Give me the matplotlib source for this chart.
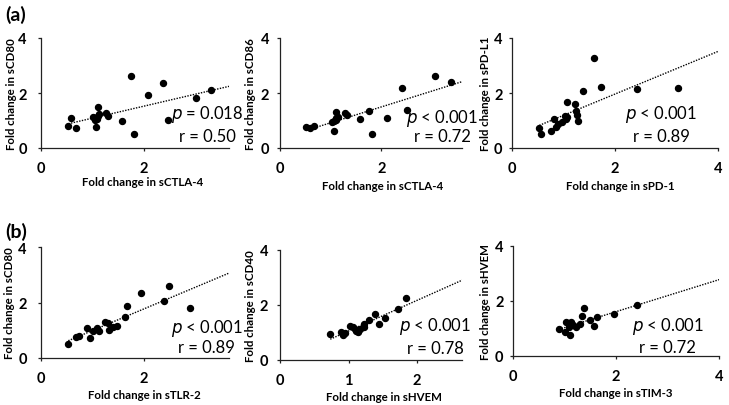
import numpy as np
import matplotlib
matplotlib.use("Agg")
import matplotlib.pyplot as plt

plt.rcParams['font.family'] = ['Lato', 'DejaVu Sans']

# ---------------- data ----------------
# Panel (a) 1: sCTLA-4 vs sCD80
a1_x = [0.53, 0.59, 0.68, 1.00, 1.05, 1.08, 1.10, 1.06, 1.13, 1.11, 1.27, 1.30, 1.57, 1.74, 1.81, 2.08, 2.37, 2.47, 3.01, 3.31]
a1_y = [0.79, 1.09, 0.72, 1.11, 1.02, 1.07, 1.48, 0.76, 1.23, 1.15, 1.29, 1.17, 0.99, 2.62, 0.50, 1.91, 2.37, 1.01, 1.82, 2.10]
# Panel (a) 2: sCTLA-4 vs sCD86
a2_x = [0.52, 0.59, 0.67, 1.02, 1.06, 1.10, 1.11, 1.15, 1.07, 1.10, 1.29, 1.32, 1.58, 1.76, 1.82, 2.10, 2.41, 2.51, 3.06, 3.36]
a2_y = [0.78, 0.72, 0.79, 0.96, 0.99, 1.32, 1.08, 1.12, 0.63, 1.03, 1.26, 1.21, 1.04, 1.36, 0.50, 1.10, 2.18, 1.38, 2.62, 2.39]
# Panel (a) 3: sPD-1 vs sPD-L1
a3_x = [0.53, 0.57, 0.75, 0.82, 0.85, 0.90, 0.96, 1.03, 1.05, 1.06, 1.07, 1.22, 1.24, 1.26, 1.27, 1.37, 1.59, 1.72, 2.43, 3.21]
a3_y = [0.74, 0.51, 0.63, 1.05, 0.78, 0.87, 0.93, 1.15, 1.05, 1.68, 1.12, 1.59, 1.36, 1.20, 0.99, 2.06, 3.27, 2.23, 2.16, 2.19]
# Panel (b) 1: sTLR-2 vs sCD80
b1_x = [0.53, 0.68, 0.73, 0.90, 0.96, 1.02, 1.08, 1.13, 1.24, 1.31, 1.33, 1.39, 1.47, 1.64, 1.67, 1.95, 2.39, 2.49, 2.89]
b1_y = [0.50, 0.76, 0.80, 1.08, 0.71, 0.98, 1.06, 0.95, 1.28, 1.26, 1.02, 1.10, 1.16, 1.49, 1.89, 2.33, 2.05, 2.59, 1.80]
# Panel (b) 2: sHVEM vs sCD40
b2_x = [0.73, 0.89, 0.91, 0.95, 1.02, 1.06, 1.09, 1.11, 1.13, 1.16, 1.22, 1.23, 1.29, 1.39, 1.44, 1.53, 1.72, 1.84]
b2_y = [0.93, 0.99, 0.90, 0.96, 1.24, 1.20, 1.12, 1.03, 0.99, 1.12, 1.30, 1.18, 1.45, 1.66, 1.30, 1.53, 1.83, 2.23]
# Panel (b) 3: sTIM-3 vs sHVEM
b3_x = [0.89, 1.01, 1.03, 1.08, 1.11, 1.13, 1.16, 1.22, 1.29, 1.34, 1.38, 1.50, 1.58, 1.62, 1.95, 2.41]
b3_y = [0.96, 0.88, 1.21, 1.03, 0.74, 1.21, 1.12, 1.03, 1.14, 1.45, 1.72, 1.30, 1.09, 1.39, 1.53, 1.84]

x_labels = ["Fold change in sCTLA-4", "Fold change in sCTLA-4", "Fold change in sPD-1",
            "Fold change in sTLR-2", "Fold change in sHVEM", "Fold change in sTIM-3"]
y_labels = ["Fold change in sCD80", "Fold change in sCD86", "Fold change in sPD-L1",
            "Fold change in sCD80", "Fold change in sCD40", "Fold change in sHVEM"]
p_texts = ["= 0.018", "< 0.001", "< 0.001", "< 0.001", "< 0.001", "< 0.001"]
r_texts = ["r = 0.50", "r = 0.72", "r = 0.89", "r = 0.89", "r = 0.78", "r = 0.72"]
x_ticks = [[0, 2], [0, 2], [0, 2, 4], [0, 2], [0, 1, 2], [0, 2, 4]]
y_ticks = [0, 2, 4]
panel_tags = ["(a)", "(b)"]

xs = [a1_x, a2_x, a3_x, b1_x, b2_x, b3_x]
ys = [a1_y, a2_y, a3_y, b1_y, b2_y, b3_y]

# ---------------- layout ----------------
W, H = 729, 406
fig = plt.figure(figsize=(W / 100, H / 100), dpi=100)

# pixel boxes: left, right, top, bottom
boxes = [(41, 229, 39, 149), (279.7, 462.3, 39, 149), (512, 718.3, 39, 149),
         (41, 229.3, 248.3, 358.7), (280.3, 462.3, 250.7, 360.7), (513, 719.3, 246.7, 356.7)]
xmaxs = [3.65, 3.59, 4.0, 3.66, 2.66, 4.0]
text_x = [0.883, 0.89, 0.724, 0.88, 0.853, 0.75]
p_y = [0.31, 0.28, 0.31, 0.275, 0.31, 0.27]
r_y = [0.11, 0.11, 0.11, 0.094, 0.11, 0.075]
xlab_pos = [(0.54, -0.30), (0.564, -0.34), (0.525, -0.34), (0.547, -0.33), (0.567, -0.333), (0.50, -0.333)]
ylab_x = [-0.156, -0.161, -0.13, -0.165, -0.165, -0.133]
ypads = [7.8, 5.2, 4.3, 7.8, 6.3, 4.4]

for i in range(6):
    l, r, t, b = boxes[i]
    ax = fig.add_axes([l / W, 1 - b / H, (r - l) / W, (b - t) / H])
    x = np.array(xs[i]); y = np.array(ys[i])
    ax.plot(x, y, 'o', color='black', ms=4.3, mec='black', zorder=3, clip_on=False)
    k, c = np.polyfit(x, y, 1)
    xl = np.array([x.min(), xmaxs[i]])
    ax.plot(xl, k * xl + c, color='black', lw=1.0, ls=(0, (1, 1)), zorder=2)
    ax.set_xlim(0, xmaxs[i])
    ax.set_ylim(0, 4)
    ax.set_xticks(x_ticks[i])
    ax.set_yticks(y_ticks)
    for s in ['top', 'right']:
        ax.spines[s].set_visible(False)
    for s in ['left', 'bottom']:
        ax.spines[s].set_linewidth(0.9)
        ax.spines[s].set_color('#222222')
    ax.tick_params(axis='both', length=2.5, width=0.9, color='#222222', labelsize=10.5)
    ax.tick_params(axis='x', pad=6.8)
    ax.tick_params(axis='y', pad=ypads[i])
    for lab in ax.get_xticklabels() + ax.get_yticklabels():
        lab.set_fontweight('bold')
    ax.set_xlabel(x_labels[i], fontsize=8.3, fontweight='bold', va='center')
    ax.xaxis.set_label_coords(*xlab_pos[i])
    ax.set_ylabel(y_labels[i], fontsize=8.3, fontweight='bold', va='center')
    ax.yaxis.set_label_coords(ylab_x[i], 0.5)
    ax.text(text_x[i], p_y[i], r"$\it{p}$ " + p_texts[i], transform=ax.transAxes,
            ha='center', va='center', fontsize=12)
    ax.text(text_x[i], r_y[i], r_texts[i], transform=ax.transAxes,
            ha='center', va='center', fontsize=12)
    ax.patch.set_alpha(0)

fig.text(5 / W, 1 - 15 / H, panel_tags[0], fontsize=14, fontweight='bold', va='center', ha='left')
fig.text(5 / W, 1 - 231.7 / H, panel_tags[1], fontsize=14, fontweight='bold', va='center', ha='left')

fig.savefig("out.png", dpi=100)
